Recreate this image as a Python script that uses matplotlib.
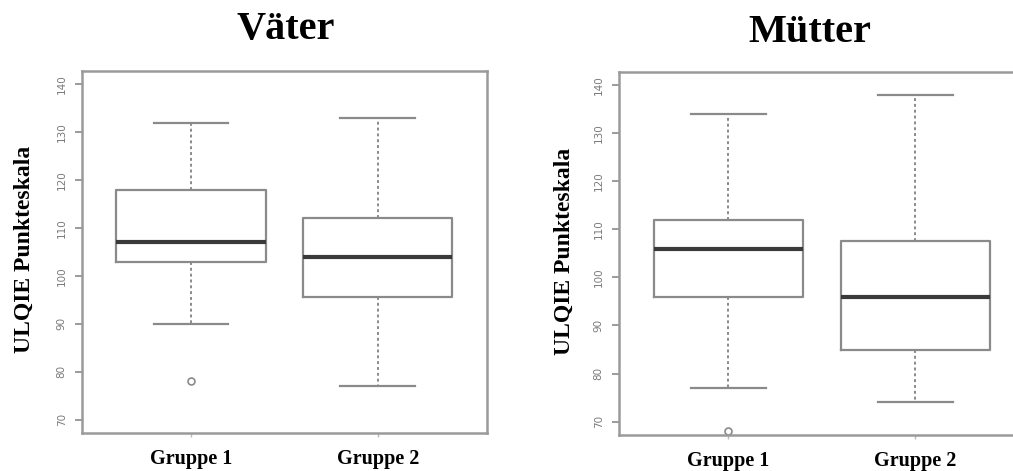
import numpy as np
import matplotlib
matplotlib.use("Agg")
import matplotlib.pyplot as plt

# Boxplot statistics
groups = ["Gruppe 1", "Gruppe 2"]
titles = ["Väter", "Mütter"]

vaeter_whislo = [90, 77]
vaeter_q1 = [103, 95.5]
vaeter_med = [107, 104]
vaeter_q3 = [118, 112]
vaeter_whishi = [132, 133]
vaeter_fliers = [[78], []]

muetter_whislo = [77, 74]
muetter_q1 = [96, 85]
muetter_med = [106, 96]
muetter_q3 = [112, 107.5]
muetter_whishi = [134, 138]
muetter_fliers = [[68], []]

yticks = [70, 80, 90, 100, 110, 120, 130, 140]

def make_stats(lo, q1, med, q3, hi, fl):
    out = []
    for i in range(len(groups)):
        out.append(dict(label=groups[i], whislo=lo[i], q1=q1[i], med=med[i],
                        q3=q3[i], whishi=hi[i], fliers=fl[i]))
    return out

stats = [make_stats(vaeter_whislo, vaeter_q1, vaeter_med, vaeter_q3, vaeter_whishi, vaeter_fliers),
         make_stats(muetter_whislo, muetter_q1, muetter_med, muetter_q3, muetter_whishi, muetter_fliers)]

fig = plt.figure(figsize=(10.13, 4.71), dpi=100)
rects = [[0.0809, 0.0807, 0.3998, 0.7686],
         [0.6110, 0.0764, 0.4008, 0.7710]]
ylabel_x = [24 / 1013, 564 / 1013]
title_x = [286 / 1013, 810 / 1013]
title_y = [0.938, 0.930]

grey = "#8a8a8a"
serif = "Liberation Serif"

for k in range(2):
    ax = fig.add_axes(rects[k])
    ax.bxp(stats[k], positions=[1, 2], widths=0.8, showfliers=True,
           boxprops=dict(color=grey, linewidth=1.6),
           medianprops=dict(color="#3a3a3a", linewidth=3),
           whiskerprops=dict(color=grey, linewidth=1.4, linestyle=(0, (1.5, 1.5))),
           capprops=dict(color=grey, linewidth=1.6),
           capwidths=0.4,
           flierprops=dict(marker="o", markersize=5, markerfacecolor="none",
                           markeredgecolor=grey, markeredgewidth=1.2))
    ax.set_xlim(0.415, 2.585)
    ax.set_ylim(67.2, 142.8)
    ax.set_yticks(yticks)
    ax.set_yticklabels([str(t) for t in yticks], rotation=90, va="center",
                       fontsize=7.5, color="#7a7a7a")
    ax.set_xticks([1, 2])
    ax.set_xticklabels(["", ""])
    ax.tick_params(axis="y", length=5, width=1.2, color=grey, pad=6)
    ax.tick_params(axis="x", length=3, width=1, color="#bbbbbb")
    for s in ax.spines.values():
        s.set_color("#9a9a9a")
        s.set_linewidth(1.8)
    for i, g in enumerate(groups):
        ax.text(i + 1, -0.045, g, transform=ax.get_xaxis_transform(),
                ha="center", va="top", fontsize=14.5, fontweight="bold",
                family=serif)
    fig.text(ylabel_x[k], rects[k][1] + rects[k][3] / 2 + 0.005,
             "ULQIE Punkteskala", rotation=90, ha="center", va="center",
             fontsize=17, fontweight="bold", family=serif)
    fig.text(title_x[k], title_y[k], titles[k], ha="center", va="center",
             fontsize=29, fontweight="bold", family=serif)

fig.savefig("out.png", dpi=100)
